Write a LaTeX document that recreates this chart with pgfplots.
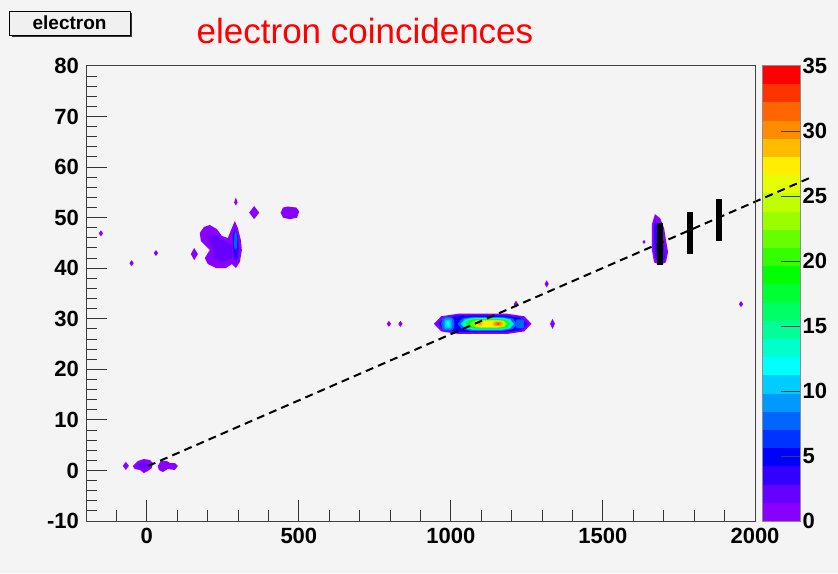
\documentclass[border=0pt]{standalone}
\usepackage{pgfplots}
\pgfplotsset{compat=1.18}
\usepackage{fontspec}
\setmainfont{Liberation Sans}
\definecolor{bgc}{HTML}{F4F4F4}
\definecolor{c1}{HTML}{8800FF}
\definecolor{c2}{HTML}{6600FF}
\definecolor{c3}{HTML}{3300FF}
\definecolor{c4}{HTML}{0000FF}
\definecolor{c5}{HTML}{0033FF}
\definecolor{c6}{HTML}{0066FF}
\definecolor{c7}{HTML}{0099FF}
\definecolor{c8}{HTML}{00CCFF}
\definecolor{c9}{HTML}{00FFFF}
\definecolor{c10}{HTML}{00FFCC}
\definecolor{c11}{HTML}{00FF99}
\definecolor{c12}{HTML}{00FF66}
\definecolor{c13}{HTML}{00FF33}
\definecolor{c14}{HTML}{00FF00}
\definecolor{c15}{HTML}{33FF00}
\definecolor{c16}{HTML}{66FF00}
\definecolor{c17}{HTML}{99FF00}
\definecolor{c18}{HTML}{C0FF00}
\definecolor{c19}{HTML}{E5FF00}
\definecolor{c20}{HTML}{FFEE00}
\definecolor{c21}{HTML}{FFBB00}
\definecolor{c22}{HTML}{FF8C00}
\definecolor{c23}{HTML}{FF6600}
\definecolor{c24}{HTML}{FF3300}
\definecolor{c25}{HTML}{FF0000}
\begin{document}
\begin{tikzpicture}
\fill[bgc] (0,0) rectangle (419pt,286.5pt);
% colour scale
\begin{axis}[at={(381.25pt,26pt)}, anchor=south west, scale only axis,
  width=19pt, height=227.5pt, xmin=0, xmax=1, ymin=0, ymax=35,
  xtick=\empty, ytick={0,5,...,35}, yticklabels={0,5,10,15,20,25,30,35},
  ytick pos=right, yticklabel pos=right, tick align=inside,
  major tick length=10pt, axis on top,
  axis line style={black!45, line width=0.5pt},
  every tick/.style={black!75, line width=0.5pt},
  yticklabel style={font=\bfseries\fontsize{11}{13}\selectfont, xshift=-2.5pt}]
\addplot[fill=c1, draw=none] coordinates {(0,0) (1,0) (1,1.4) (0,1.4)} --cycle;
\addplot[fill=c2, draw=none] coordinates {(0,1.4) (1,1.4) (1,2.8) (0,2.8)} --cycle;
\addplot[fill=c3, draw=none] coordinates {(0,2.8) (1,2.8) (1,4.2) (0,4.2)} --cycle;
\addplot[fill=c4, draw=none] coordinates {(0,4.2) (1,4.2) (1,5.6) (0,5.6)} --cycle;
\addplot[fill=c5, draw=none] coordinates {(0,5.6) (1,5.6) (1,7.0) (0,7.0)} --cycle;
\addplot[fill=c6, draw=none] coordinates {(0,7.0) (1,7.0) (1,8.4) (0,8.4)} --cycle;
\addplot[fill=c7, draw=none] coordinates {(0,8.4) (1,8.4) (1,9.8) (0,9.8)} --cycle;
\addplot[fill=c8, draw=none] coordinates {(0,9.8) (1,9.8) (1,11.2) (0,11.2)} --cycle;
\addplot[fill=c9, draw=none] coordinates {(0,11.2) (1,11.2) (1,12.6) (0,12.6)} --cycle;
\addplot[fill=c10, draw=none] coordinates {(0,12.6) (1,12.6) (1,14.0) (0,14.0)} --cycle;
\addplot[fill=c11, draw=none] coordinates {(0,14.0) (1,14.0) (1,15.4) (0,15.4)} --cycle;
\addplot[fill=c12, draw=none] coordinates {(0,15.4) (1,15.4) (1,16.8) (0,16.8)} --cycle;
\addplot[fill=c13, draw=none] coordinates {(0,16.8) (1,16.8) (1,18.2) (0,18.2)} --cycle;
\addplot[fill=c14, draw=none] coordinates {(0,18.2) (1,18.2) (1,19.6) (0,19.6)} --cycle;
\addplot[fill=c15, draw=none] coordinates {(0,19.6) (1,19.6) (1,21.0) (0,21.0)} --cycle;
\addplot[fill=c16, draw=none] coordinates {(0,21.0) (1,21.0) (1,22.4) (0,22.4)} --cycle;
\addplot[fill=c17, draw=none] coordinates {(0,22.4) (1,22.4) (1,23.8) (0,23.8)} --cycle;
\addplot[fill=c18, draw=none] coordinates {(0,23.8) (1,23.8) (1,25.2) (0,25.2)} --cycle;
\addplot[fill=c19, draw=none] coordinates {(0,25.2) (1,25.2) (1,26.6) (0,26.6)} --cycle;
\addplot[fill=c20, draw=none] coordinates {(0,26.6) (1,26.6) (1,28.0) (0,28.0)} --cycle;
\addplot[fill=c21, draw=none] coordinates {(0,28.0) (1,28.0) (1,29.4) (0,29.4)} --cycle;
\addplot[fill=c22, draw=none] coordinates {(0,29.4) (1,29.4) (1,30.8) (0,30.8)} --cycle;
\addplot[fill=c23, draw=none] coordinates {(0,30.8) (1,30.8) (1,32.2) (0,32.2)} --cycle;
\addplot[fill=c24, draw=none] coordinates {(0,32.2) (1,32.2) (1,33.6) (0,33.6)} --cycle;
\addplot[fill=c25, draw=none] coordinates {(0,33.6) (1,33.6) (1,35.0) (0,35.0)} --cycle;
\end{axis}
% main plot
\begin{axis}[at={(43pt,26pt)}, anchor=south west, scale only axis,
  width=334.5pt, height=227.5pt,
  xmin=-200, xmax=2000, ymin=-10, ymax=80,
  xtick={0,500,...,2000}, xticklabels={0,500,1000,1500,2000},
  ytick={-10,0,...,80}, yticklabels={-10,0,10,20,30,40,50,60,70,80},
  minor xtick={-200,-100,...,2000}, minor ytick={-10,-8,...,80},
  tick pos=left, tick align=inside,
  major tick length=10.5pt, minor tick length=5.3pt,
  clip=false, axis on top,
  axis line style={black!75, line width=0.5pt},
  every tick/.style={black!80, line width=0.5pt},
  tick label style={font=\bfseries\fontsize{11}{13}\selectfont}]
% --- blobs near origin
\addplot[fill=c1, draw=none] coordinates {(-79,0.9) (-69,1.7) (-59,0.9) (-69,0.1)} --cycle;
\addplot[fill=c1, draw=none] coordinates {(-46,0.88) (-29.6,1.87) (-9.9,2.26) (9.9,2.07) (19.7,1.47) (16.4,0.48) (3.3,-0.11) (-9.9,-0.5) (-23,0.09) (-39.5,0.29)} --cycle;
\addplot[fill=c2, draw=none] coordinates {(-30,1.0) (-15,1.6) (0,1.5) (8,0.9) (-5,0.3) (-20,0.5)} --cycle;
\addplot[fill=c1, draw=none] coordinates {(36,0.88) (46,1.87) (66,1.87) (76,1.47) (92,1.47) (102,0.88) (92,0.09) (69,0.29) (53,-0.31) (39.5,0.09)} --cycle;
% --- isolated points
\addplot[fill=c1, draw=none] coordinates {(-158,46.9) (-151,47.5) (-144,46.9) (-151,46.3)} --cycle;
\addplot[fill=c1, draw=none] coordinates {(-57,41.0) (-50,41.6) (-43,41.0) (-50,40.4)} --cycle;
\addplot[fill=c1, draw=none] coordinates {(23,43.0) (30,43.6) (37,43.0) (30,42.4)} --cycle;
\addplot[fill=c1, draw=none] coordinates {(789,29.0) (796,29.6) (803,29.0) (796,28.4)} --cycle;
\addplot[fill=c1, draw=none] coordinates {(827,29.0) (834,29.6) (841,29.0) (834,28.4)} --cycle;
\addplot[fill=c1, draw=none] coordinates {(1207,32.9) (1214,33.6) (1221,32.9) (1214,32.2)} --cycle;
\addplot[fill=c1, draw=none] coordinates {(1308,36.9) (1315,37.6) (1322,36.9) (1315,36.2)} --cycle;
\addplot[fill=c1, draw=none] coordinates {(1326,29.0) (1334,30.0) (1342,29.0) (1334,28.0)} --cycle;
\addplot[fill=c1, draw=none] coordinates {(1947,32.9) (1954,33.5) (1961,32.9) (1954,32.3)} --cycle;
\addplot[fill=c1, draw=none] coordinates {(1630,45.2) (1635,45.6) (1640,45.2) (1635,44.8)} --cycle;
% --- cluster near (250,45)
\addplot[fill=c1, draw=none] coordinates {(144.7,42.8) (156,44.0) (167.8,42.8) (156,41.6)} --cycle;
\addplot[fill=c1, draw=none] coordinates {(174.3,46.97) (187.5,48.15) (207.2,48.55) (230.3,47.75) (246.7,46.37) (266.4,45.98) (279.6,47.95) (289.5,49.34) (299.3,47.95) (309.2,45.58) (312.5,43.6) (305.9,41.23) (292.8,40.04) (279.6,40.83) (259.9,40.04) (227,40.04) (200.7,40.83) (190.8,42.02) (207.2,43.6) (194.1,44.40) (177.6,45.38)} --cycle;
\addplot[fill=c2, draw=none] coordinates {(200.7,46.37) (227,46.57) (259.9,45.19) (279.6,44.59) (279.6,42.02) (246.7,41.23) (220.4,42.02) (220.4,43.6) (207.2,45.19)} --cycle;
\addplot[fill=c3, draw=none] coordinates {(282.9,46.37) (289.5,47.95) (299.3,46.37) (302.6,43.6) (296.1,41.23) (286.2,42.02) (282.9,44.0)} --cycle;
\addplot[fill=c6, draw=none] coordinates {(287.8,46.57) (292.8,47.56) (297.7,45.98) (296.1,44.0) (289.5,43.6) (286.2,44.79)} --cycle;
\addplot[fill=c1, draw=none] coordinates {(287,53.0) (292.8,54.0) (298.6,53.0) (292.8,52.4)} --cycle;
\addplot[fill=c1, draw=none] coordinates {(336.5,51.0) (353,52.3) (369.5,51.0) (353,49.7)} --cycle;
\addplot[fill=c1, draw=none] coordinates {(440,51.0) (448,52.0) (462,52.2) (492,52.0) (501,51.2) (494,50.0) (470,49.7) (448,50.0)} --cycle;
% --- main peak near (1100,29)
\addplot[fill=c1, draw=none] coordinates {(944,29) (968.1,30.5) (1024.25,31.0) (1184.75,31.0) (1240.9,30.5) (1265,29) (1240.9,27.5) (1184.75,27.0) (1024.25,27.0) (968.1,27.5)} --cycle;
\addplot[fill=c2, draw=none] coordinates {(952,29) (974.9,30.35) (1028.25,30.8) (1180.75,30.8) (1234.1,30.35) (1257,29) (1234.1,27.65) (1180.75,27.2) (1028.25,27.2) (974.9,27.65)} --cycle;
\addplot[fill=c4, draw=none] coordinates {(960,29) (981.7,30.2) (1032.25,30.6) (1176.75,30.6) (1227.3,30.2) (1249,29) (1227.3,27.8) (1176.75,27.4) (1032.25,27.4) (981.7,27.8)} --cycle;
\addplot[fill=c6, draw=none] coordinates {(968,29) (971.3,30.01) (979,30.35) (1001,30.35) (1008.7,30.01) (1012,29) (1008.7,27.99) (1001,27.65) (979,27.65) (971.3,27.99)} --cycle;
\addplot[fill=c7, draw=none] coordinates {(975,29) (977.25,29.825) (982.5,30.1) (997.5,30.1) (1002.75,29.825) (1005,29) (1002.75,28.175) (997.5,27.9) (982.5,27.9) (977.25,28.175)} --cycle;
\addplot[fill=c8, draw=none] coordinates {(980,29) (981.5,29.6) (985,29.8) (995,29.8) (998.5,29.6) (1000,29) (998.5,28.4) (995,28.2) (985,28.2) (981.5,28.4)} --cycle;
\addplot[fill=c9, draw=none] coordinates {(985,29) (985.75,29.375) (987.5,29.5) (992.5,29.5) (994.25,29.375) (995,29) (994.25,28.625) (992.5,28.5) (987.5,28.5) (985.75,28.625)} --cycle;
\addplot[fill=c6, draw=none] coordinates {(1212,29) (1214.25,29.675) (1219.5,29.9) (1234.5,29.9) (1239.75,29.675) (1242,29) (1239.75,28.325) (1234.5,28.1) (1219.5,28.1) (1214.25,28.325)} --cycle;
\addplot[fill=c6, draw=none] coordinates {(1022,29) (1036.7,30.05) (1071,30.4) (1169,30.4) (1203.3,30.05) (1218,29) (1203.3,27.95) (1169,27.6) (1071,27.6) (1036.7,27.95)} --cycle;
\addplot[fill=c8, draw=none] coordinates {(1032,29) (1045.2,29.94) (1076,30.25) (1164,30.25) (1194.8,29.94) (1208,29) (1194.8,28.06) (1164,27.75) (1076,27.75) (1045.2,28.06)} --cycle;
\addplot[fill=c10, draw=none] coordinates {(1038,29) (1050.45,29.84) (1079.5,30.12) (1162.5,30.12) (1191.55,29.84) (1204,29) (1191.55,28.16) (1162.5,27.88) (1079.5,27.88) (1050.45,28.16)} --cycle;
\addplot[fill=c12, draw=none] coordinates {(1044,29) (1055.55,29.75) (1082.5,30.0) (1159.5,30.0) (1186.45,29.75) (1198,29) (1186.45,28.25) (1159.5,28.0) (1082.5,28.0) (1055.55,28.25)} --cycle;
\addplot[fill=c14, draw=none] coordinates {(1052,29) (1062.5,29.675) (1087,29.9) (1157,29.9) (1181.5,29.675) (1192,29) (1181.5,28.325) (1157,28.1) (1087,28.1) (1062.5,28.325)} --cycle;
\addplot[fill=c16, draw=none] coordinates {(1062,29) (1071.3,29.6) (1093,29.8) (1155,29.8) (1176.7,29.6) (1186,29) (1176.7,28.4) (1155,28.2) (1093,28.2) (1071.3,28.4)} --cycle;
\addplot[fill=c18, draw=none] coordinates {(1072,29) (1080.2,29.525) (1099.25,29.7) (1153.75,29.7) (1172.8,29.525) (1181,29) (1172.8,28.475) (1153.75,28.3) (1099.25,28.3) (1080.2,28.475)} --cycle;
\addplot[fill=c20, draw=none] coordinates {(1082,29) (1089.1,29.45) (1105.75,29.6) (1153.25,29.6) (1169.9,29.45) (1177,29) (1169.9,28.55) (1153.25,28.4) (1105.75,28.4) (1089.1,28.55)} --cycle;
\addplot[fill=c21, draw=none] coordinates {(1137,29) (1139.7,29.375) (1146,29.5) (1164,29.5) (1170.3,29.375) (1173,29) (1170.3,28.625) (1164,28.5) (1146,28.5) (1139.7,28.625)} --cycle;
\addplot[fill=c21, draw=none] coordinates {(1086,29) (1087.35,29.26) (1090.5,29.35) (1099.5,29.35) (1102.65,29.26) (1104,29) (1102.65,28.74) (1099.5,28.65) (1090.5,28.65) (1087.35,28.74)} --cycle;
\addplot[fill=c22, draw=none] coordinates {(1143,29) (1144.8,29.28) (1149,29.37) (1161,29.37) (1165.2,29.28) (1167,29) (1165.2,28.72) (1161,28.63) (1149,28.63) (1144.8,28.72)} --cycle;
\addplot[fill=c22, draw=none] coordinates {(1090,29) (1095,29.22) (1100,29) (1095,28.78)} --cycle;
\addplot[fill=c24, draw=none] coordinates {(1150,29) (1155,29.22) (1160,29) (1155,28.78)} --cycle;
% --- blob near (1690,45)
\addplot[fill=c1, draw=none] coordinates {(1671,50.7) (1688,49.9) (1701,47.95) (1707,45.6) (1714,43.2) (1707,41.2) (1688,40.6) (1668,41.2) (1661,43.6) (1661,46.6) (1661,48.7)} --cycle;
\addplot[fill=c3, draw=none] coordinates {(1671,49.5) (1690,47.5) (1700,44) (1704,42) (1690,41.2) (1672,42) (1668,45) (1668,48)} --cycle;
\addplot[fill=c5, draw=none] coordinates {(1690,45) (1700,43.5) (1702,42) (1690,41.6) (1686,43)} --cycle;
% --- dashed fit line and markers
\addplot[black, line width=1pt, dash pattern=on 4pt off 2.6pt] coordinates {(4,0.88) (2193,58.2)};
\addplot[black, line width=3pt] coordinates {(1686,40.6) (1686,48.9)};
\addplot[black, line width=3pt] coordinates {(1785,42.8) (1785,51.1)};
\addplot[black, line width=3pt] coordinates {(1881,45.4) (1881,53.7)};
\end{axis}
% title and label box
\node[anchor=base, text=red, font=\fontsize{17.5}{20}\selectfont] at (182.5pt,264.5pt) {electron coincidences};
\fill[black!80] (5.9pt,267.8pt) rectangle (66.2pt,279.8pt);
\filldraw[fill=white!94!black, draw=black, line width=0.4pt] (4.65pt,269pt) rectangle (65pt,281pt);
\node[font=\bfseries\fontsize{9.5}{11}\selectfont] at (34.8pt,275pt) {electron};
\end{tikzpicture}
\end{document}
